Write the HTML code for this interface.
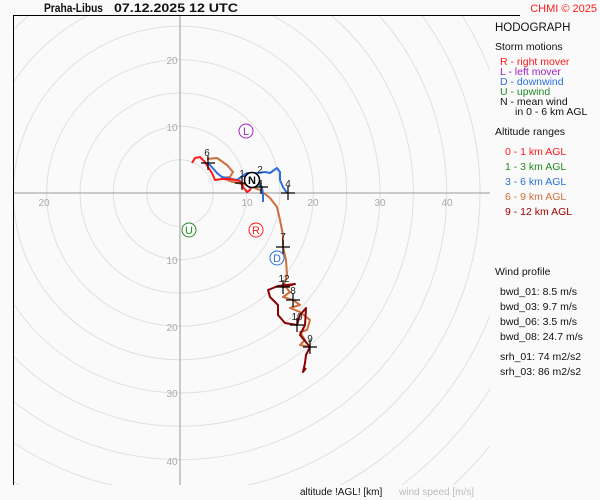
<!DOCTYPE html>
<html style="overflow:hidden"><head><meta charset="utf-8"><style>
html,body{margin:0;padding:0;background:#fafafa;width:600px;height:500px;overflow:hidden;font-family:"Liberation Sans",sans-serif}
svg{position:absolute;left:0;top:0;display:block}
</style></head><body>
<svg width="600" height="500" viewBox="0 0 600 500" font-family="Liberation Sans, sans-serif">
<rect width="600" height="500" fill="#fafafa"/>
<defs><clipPath id="c"><rect x="13" y="15" width="477" height="470"/></clipPath></defs>
<g clip-path="url(#c)" fill="none" stroke="#e0e0e0" stroke-width="1">
<circle cx="180" cy="193" r="33.3"/><circle cx="180" cy="193" r="66.7"/><circle cx="180" cy="193" r="100"/>
<circle cx="180" cy="193" r="133.3"/><circle cx="180" cy="193" r="166.7"/><circle cx="180" cy="193" r="200"/>
<circle cx="180" cy="193" r="233.3"/><circle cx="180" cy="193" r="266.7"/><circle cx="180" cy="193" r="300"/>
<circle cx="180" cy="193" r="333.3"/><circle cx="180" cy="193" r="366.7"/><circle cx="180" cy="193" r="400"/>
<circle cx="180" cy="193" r="433.3"/>
</g>
<line x1="180" y1="15" x2="180" y2="485" stroke="#999"/>
<line x1="13" y1="193" x2="490" y2="193" stroke="#999"/>
<line x1="13" y1="15.5" x2="520" y2="15.5" stroke="#000"/>
<line x1="13.5" y1="15" x2="13.5" y2="485" stroke="#000"/>
<g font-size="10" fill="#aaa" text-anchor="middle">
<text x="44" y="206">20</text><text x="247" y="206">10</text><text x="313" y="206">20</text><text x="380" y="206">30</text><text x="447" y="206">40</text>
<text x="172" y="64">20</text><text x="172" y="131">10</text><text x="172" y="264">10</text><text x="172" y="331">20</text><text x="172" y="397">30</text><text x="172" y="465">40</text>
</g>
<g fill="none" stroke-width="2" stroke-linejoin="round">
<polyline stroke="#cd6f3c" points="207,159 217,158 227,165 233,172 230,177 222,178 233,182 247,185 260,190 270,198 277,207 280,220 283,235 283,247 286,260 287,275 284,285 290,292 283,297 293,300 300,305 290,308 300,312 310,320 307,330 300,332 305,340 300,345 310,347"/>
<polyline stroke="#2a6fdc" points="205,163 210,165 217,173 222,177 237,180 247,173 258,173 265,172 270,173 277,168 280,172 280,180 283,187 287,193"/>
<polyline stroke="#2a6fdc" points="257,183 262,187 263,195 263,202"/>
<polyline stroke="#228b22" points="255,180 260,183 261,187"/>
<polyline stroke="#8b0000" points="283,287 295,284 278,286 268,290 270,297 278,305 278,315 285,323 297,325 300,315 306,308 305,325 300,335 310,347 306,355 305,363 303,372 306,368"/>
<polyline stroke="#ff1a1a" points="192,163 195,158 200,157 205,162 208,167 212,173 215,180 222,179 230,179 240,181 243,187 247,192 250,190 253,183"/>
</g>
<g stroke="#000" stroke-width="1.2">
<path d="M201,163h14M208,156v14"/><path d="M235,183h14M242,176v14"/><path d="M254,187h14M261,180v14"/>
<path d="M281,193h14M288,186v14"/><path d="M276,247h14M283,240v14"/><path d="M276,287h14M283,280v14"/>
<path d="M286,300h14M293,293v14"/><path d="M290,325h14M297,318v14"/><path d="M303,347h14M310,340v14"/>
</g>
<g font-size="10" fill="#222" text-anchor="middle">
<text x="207" y="156">6</text><text x="242" y="177">1</text><text x="260" y="173">2</text><text x="288" y="187">4</text>
<text x="283" y="240">7</text><text x="284" y="282">12</text><text x="293" y="294">8</text><text x="297" y="320">10</text><text x="310" y="342">9</text>
</g>
<g font-size="11" text-anchor="middle" font-weight="bold">
<circle cx="252" cy="180" r="7.5" fill="#fff" stroke="#000" stroke-width="1.5"/><text x="252" y="184" fill="#000">N</text>
</g>
<g font-size="11" text-anchor="middle">
<circle cx="246" cy="131" r="7" fill="#fff" stroke="#a020c0"/><text x="246" y="135" fill="#a020c0">L</text>
<circle cx="189" cy="230" r="7" fill="#fff" stroke="#228b22"/><text x="189" y="234" fill="#228b22">U</text>
<circle cx="256" cy="230" r="7" fill="#fff" stroke="#ff1a1a"/><text x="256" y="234" fill="#ff1a1a">R</text>
<circle cx="277" cy="258" r="7" fill="#fff" stroke="#2a6fdc"/><text x="277" y="262" fill="#2a6fdc">D</text>
</g>
<text x="44" y="12" font-size="12" font-weight="bold" fill="#111" textLength="59" lengthAdjust="spacingAndGlyphs">Praha-Libus</text>
<text x="114" y="12" font-size="12" font-weight="bold" fill="#111" textLength="124" lengthAdjust="spacingAndGlyphs">07.12.2025 12 UTC</text>
<text x="597" y="12" font-size="11" fill="#ff1a1a" text-anchor="end">CHMI © 2025</text>
<g font-size="10.5">
<text x="495" y="31" font-size="11.5" fill="#111">HODOGRAPH</text>
<text x="495" y="50" fill="#111">Storm motions</text>
<text x="500" y="65" fill="#ff1a1a">R - right mover</text>
<text x="500" y="75" fill="#a020c0">L - left mover</text>
<text x="500" y="85" fill="#2a6fdc">D - downwind</text>
<text x="500" y="95" fill="#228b22">U - upwind</text>
<text x="500" y="105" fill="#111">N - mean wind</text>
<text x="515" y="115" fill="#111">in 0 - 6 km AGL</text>
<text x="495" y="135" fill="#111">Altitude ranges</text>
<text x="505" y="155" fill="#ff1a1a">0 - 1 km AGL</text>
<text x="505" y="170" fill="#228b22">1 - 3 km AGL</text>
<text x="505" y="185" fill="#2a6fdc">3 - 6 km AGL</text>
<text x="505" y="200" fill="#cd6f3c">6 - 9 km AGL</text>
<text x="505" y="215" fill="#a00000">9 - 12 km AGL</text>
<text x="495" y="275" fill="#111">Wind profile</text>
<text x="500" y="295" fill="#111">bwd_01: 8.5 m/s</text>
<text x="500" y="310" fill="#111">bwd_03: 9.7 m/s</text>
<text x="500" y="325" fill="#111">bwd_06: 3.5 m/s</text>
<text x="500" y="340" fill="#111">bwd_08: 24.7 m/s</text>
<text x="500" y="360" fill="#111">srh_01: 74 m2/s2</text>
<text x="500" y="375" fill="#111">srh_03: 86 m2/s2</text>
<text x="300" y="495" font-size="10" fill="#111">altitude !AGL! [km]</text>
<text x="399" y="495" font-size="10" fill="#bbb">wind speed [m/s]</text>
</g>
</svg>
</body></html>
